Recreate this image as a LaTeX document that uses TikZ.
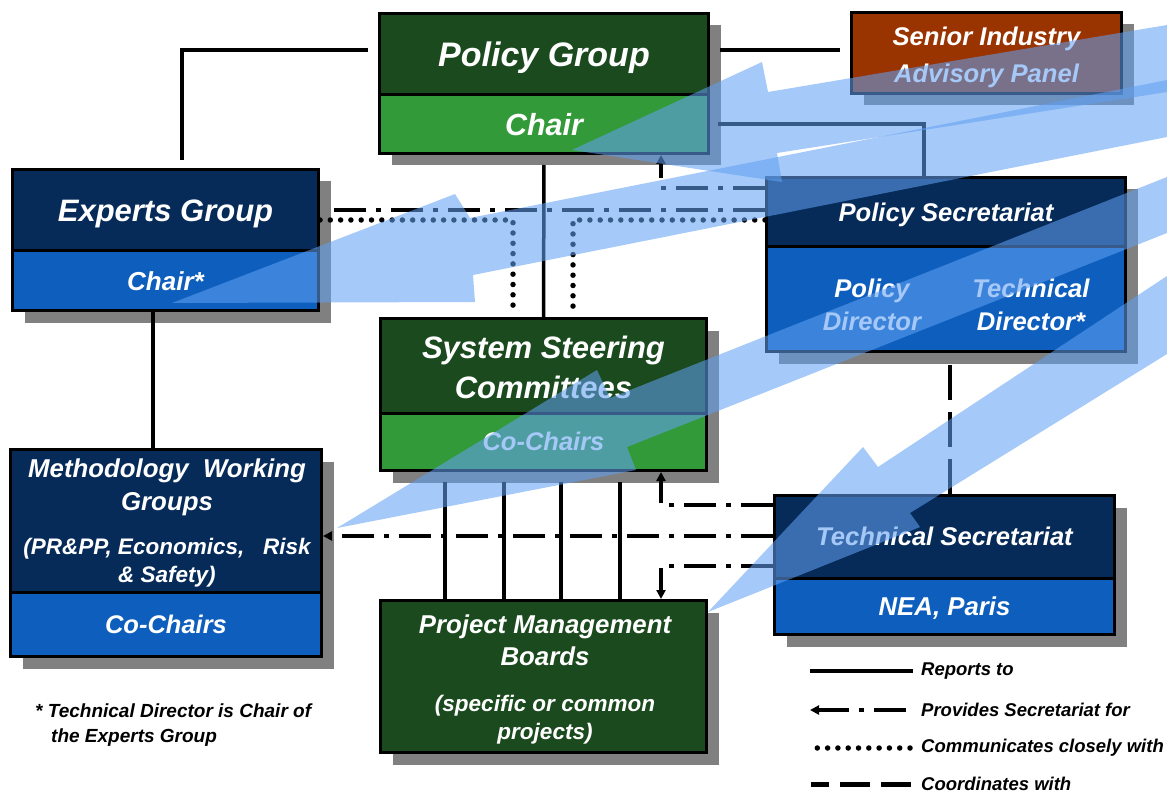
\documentclass[tikz,border=0pt]{standalone}
\usepackage{fontspec}
\setmainfont{Liberation Sans}
\usetikzlibrary{shadows,arrows.meta}

\definecolor{pgdark}{HTML}{1B4A1E}
\definecolor{pggreen}{HTML}{339A3A}
\definecolor{navy}{HTML}{062B59}
\definecolor{midblue}{HTML}{0D5EBD}
\definecolor{rust}{HTML}{993300}
\definecolor{shadowgray}{HTML}{808080}
\definecolor{arrowblue}{RGB}{97,160,242}

\newcommand{\bisize}[2]{\bfseries\itshape\fontsize{#1}{#2}\selectfont}

\tikzset{
  orgpart/.style={draw=black, line width=3pt, inner sep=0pt, text=white, align=center, text depth=0pt,
    drop shadow={shadow xshift=12pt, shadow yshift=-12pt, fill=shadowgray, opacity=1}},
  lbl/.style={text=white, align=center, inner sep=0pt},
  lgtext/.style={text=black, inner sep=0pt, anchor=west, font=\bisize{18.5}{23}},
  reports/.style={line width=3.5pt},
  secline/.style={line width=4pt, dash pattern=on 32pt off 10pt on 5pt off 10pt},
  secfor/.style={secline, ->},
  commwith/.style={line width=5.5pt, dash pattern=on 0pt off 10.3pt, line cap=round},
  coordwith/.style={line width=4.5pt, dash pattern=on 35pt off 12pt},
  bluearrow/.style={fill=arrowblue, fill opacity=0.57},
}

\begin{document}
\begin{tikzpicture}[x=1pt, y=-1pt, >={Triangle[length=9pt,width=9pt]}]
\useasboundingbox (0,0) rectangle (1167,794);

% Policy Group
\node [orgpart, fill=pgdark, minimum width=329pt, minimum height=81.5pt, text height=24.3pt, font=\bisize{34}{40}] (pgh) at (544,54.25) {Policy Group};
\node [orgpart, fill=pggreen, minimum width=329pt, minimum height=58.5pt, text height=21.8pt, font=\bisize{30.5}{36}] (pgc) at (544,124.25) {Chair};
\node [orgpart, fill=rust, minimum width=270pt, minimum height=81pt] (siap) at (986.5,53) {};
\node [lbl, font=\bisize{25.6}{37}] (siapt) at (986.5,57) {Senior Industry\\Advisory Panel};

% Experts Group
\node [orgpart, fill=navy, minimum width=306pt, minimum height=81.5pt, text height=22.2pt, font=\bisize{31}{37}] (egh) at (165.5,210.25) {Experts Group};
\node [orgpart, fill=midblue, minimum width=306pt, minimum height=59.5pt, text height=18.6pt, font=\bisize{26}{31}] (egs) at (165.5,280.75) {Chair*};

% Policy Secretariat
\node [orgpart, fill=navy, minimum width=359pt, minimum height=69.5pt, text height=18.3pt, font=\bisize{25.6}{31}] (psh) at (946,212.25) {Policy Secretariat};
\node [orgpart, fill=midblue, minimum width=359pt, minimum height=104.5pt] (pss) at (946,299.25) {};
\node [lbl, font=\bisize{25.6}{33}] (pspd) at (872,305) {Policy\\Director};
\node [lbl, font=\bisize{25.6}{33}] (pstd) at (1031,305) {Technical\\Director*};

% System Steering Committees
\node [orgpart, fill=pgdark, minimum width=326pt, minimum height=94.5pt] (ssch) at (543.5,365.75) {};
\node [lbl, font=\bisize{31}{40}] (ssct) at (543.5,367) {System Steering\\Committees};
\node [orgpart, fill=pggreen, minimum width=326pt, minimum height=57.5pt, text height=18.3pt, font=\bisize{25.5}{31}] (sscs) at (543.5,441.75) {Co-Chairs};

% Methodology Working Groups
\node [orgpart, fill=navy, minimum width=311pt, minimum height=142.5pt] (mwgh) at (166,520.75) {};
\node [lbl, font=\bisize{25.8}{33}] (mwgt) at (167,487) {Methodology\ \ Working\\Groups};
\node [lbl, font=\bisize{22.5}{28}] (mwgd) at (167,563) {(PR\&PP, Economics,\ \ \ Risk\\\& Safety)};
\node [orgpart, fill=midblue, minimum width=311pt, minimum height=64.5pt, text height=18.3pt, font=\bisize{25.5}{31}] (mwgs) at (166,624.25) {Co-Chairs};

% Project Management Boards
\node [orgpart, fill=pgdark, minimum width=326pt, minimum height=152pt] (pmb) at (543.5,676.5) {};
\node [lbl, font=\bisize{25.8}{32}] (pmbt) at (545,640) {Project Management\\Boards};
\node [lbl, font=\bisize{22.5}{28}] (pmbd) at (545,720) {(specific or common\\projects)};

% Technical Secretariat
\node [orgpart, fill=navy, minimum width=340pt, minimum height=82.5pt, text height=18.3pt, font=\bisize{25.6}{31}] (tsh) at (944.5,536.75) {Technical Secretariat};
\node [orgpart, fill=midblue, minimum width=340pt, minimum height=56.5pt, text height=18.5pt, font=\bisize{25.8}{31}] (tss) at (944.5,606.25) {NEA, Paris};

% reports to
\draw [reports, shorten <=8pt, shorten >=10pt] (egh.north -| 182,0) |- (pgh.west |- 0,50);
\draw [reports, shorten <=10pt, shorten >=10pt] (pgh.east |- 0,50) -- (siap.west |- 0,50);
\draw [reports, shorten >=8pt] (psh.north -| 924,0) |- (pgc.east);
\draw [reports, shorten <=10pt] (pgc.south) -- (ssch.north);
\draw [reports] (egs.south -| 153,0) -- (mwgh.north -| 153,0);
\foreach \x in {445,504,561,620}
  \draw [reports, shorten <=10pt] (sscs.south -| \x,0) -- (pmb.north -| \x,0);

% coordinates with
\draw [coordwith, shorten <=12pt] (pss.south -| 950,0) -- (tsh.north -| 950,0);

% provides secretariat for
\draw [secfor] (psh.west |- 0,188) -| (pgc.south -| 661,0);
\draw [secline, shorten >=12pt] (psh.west |- 0,210) -- (egh.east |- 0,210);
\draw [secfor] (tsh.west |- 0,505) -| (sscs.south -| 661,0);
\draw [secfor] (tsh.west |- 0,536) -- (mwgh.east |- 0,536);
\draw [secfor] (tsh.west |- 0,566) -| (pmb.north -| 661,0);

% communicates closely with
\draw [commwith, shorten >=4pt] (egh.east |- 0,220) -| (ssch.north -| 513,0);
\draw [commwith, shorten >=4pt] (psh.west |- 0,220) -| (ssch.north -| 573,0);

% legend
\node [lgtext] (lg1) at (921,671) {Reports to};
\node [lgtext] (lg2) at (921,710) {Provides Secretariat for};
\node [lgtext] (lg3) at (921,748) {Communicates closely with};
\node [lgtext] (lg4) at (921,784) {Coordinates with};
\draw [reports, line width=4pt] (lg1.west) ++(-8,0) -- ++(-103,0);
\draw [secfor] (lg2.west) ++(-15,0) -- ++(-96,0);
\draw [commwith] (lg3.west) ++(-11,0) -- ++(-98,0);
\draw [coordwith, line width=5pt, dash pattern=on 30pt off 11pt] (lg4.west) ++(-10,0) -- ++(-100,0);

\node [text=black, inner sep=0pt, anchor=west, align=left, font=\bisize{19}{25}] (fnote) at (35,725.5)
  {* Technical Director is Chair of\\\hspace*{16pt}the Experts Group};

% overlay arrows
\fill [bluearrow] (572,150) -- (762,62) -- (768,92) -- (1167,25) -- (1167,92) -- (777,153) -- (782,182) -- cycle;
\fill [bluearrow] (172,303) -- (455,194) -- (470,218) -- (1167,80) -- (1167,137) -- (473,275) -- (475,302) -- cycle;
\fill [bluearrow] (337,528) -- (597,370) -- (610,398) -- (1167,177) -- (1167,233) -- (627,447) -- (636,470) -- cycle;
\fill [bluearrow] (708,612) -- (863,447) -- (878,467) -- (1167,276) -- (1167,354) -- (910,513) -- (920,527) -- cycle;
\end{tikzpicture}
\end{document}
